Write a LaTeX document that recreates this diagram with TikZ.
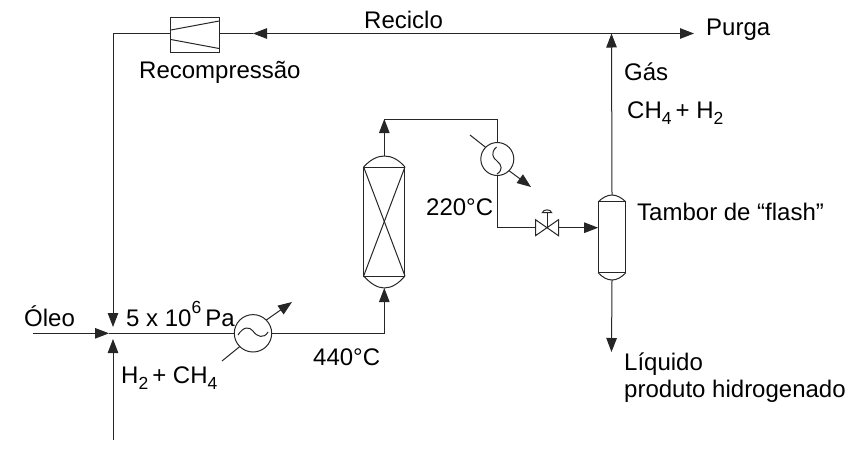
\documentclass[tikz,border=0pt]{standalone}
\usepackage{fontspec}
\setmainfont{Liberation Sans}
\usetikzlibrary{arrows.meta}
\newcommand{\subx}[1]{\raisebox{-6pt}{\fontsize{17.5}{17.5}\selectfont #1}}
\newcommand{\supx}[1]{\raisebox{13pt}{\fontsize{17.5}{17.5}\selectfont #1}}
\tikzset{
  line/.style={draw=black!85,line width=1pt},
  flow/.style={line,-{Triangle[length=14pt,width=10.5pt]}},
  eq/.style={draw=black!85,line width=1pt,inner sep=0pt,outer sep=0pt,minimum width=0pt,minimum height=0pt},
  lbl/.style={anchor=base west,inner sep=0pt,font=\fontsize{24}{26}\selectfont,text=black},
}
\begin{document}
\begin{tikzpicture}[x=1pt,y=-1pt]
\useasboundingbox (0,0) rectangle (848,472);
% equipment
\node[eq,rectangle,minimum width=48.3pt,minimum height=34.5pt] (comp) at (195,34.8) {};
\node[eq,circle,minimum size=37.4pt] (heater) at (253,333.3) {};
\node[eq,circle,minimum size=33pt] (cooler) at (497.3,159) {};
\node[eq,rectangle,minimum width=41.3pt,minimum height=109pt] (reactor) at (384.3,221.5) {};
\node[eq,rectangle,minimum width=27.7pt,minimum height=70.7pt] (drum) at (612,237.3) {};
\coordinate (valve) at (547,227.7);
% compressor internals
\draw[line] (comp.west |- 0,30) -- (comp.east |- 0,21);
\draw[line] (comp.west |- 0,39.5) -- (comp.east |- 0,48.5);
% reactor internals and heads
\draw[line] (reactor.north west) -- (reactor.south east);
\draw[line] (reactor.north east) -- (reactor.south west);
\draw[line] (reactor.north west) .. controls (370,160) and (377,156) .. (384.3,156) coordinate (rtop) .. controls (392,156) and (399,160) .. (reactor.north east);
\draw[line] (reactor.south west) .. controls (370,283) and (377,288) .. (384.3,288) coordinate (rbot) .. controls (392,288) and (399,283) .. (reactor.south east);
% drum heads
\draw[line] (drum.north west) .. controls (602,198) and (607,195) .. (612,195) coordinate (dtop) .. controls (617,195) and (622,198) .. (drum.north east);
\draw[line] (drum.south west) .. controls (602,277) and (607,280) .. (612,280) coordinate (dbot) .. controls (617,280) and (622,277) .. (drum.south east);
% heater and cooler internals
\draw[line] (238,335) .. controls (243,327) and (249,326) .. (253,331) .. controls (257,337) and (264,339) .. (268,332);
\draw[line] (496.5,147) .. controls (490,153) and (493,158) .. (497,161) .. controls (502,165) and (503,170) .. (497,174);
% valve
\draw[line] (valve) -- ++(-11.5,-8) -- ++(0,16) -- cycle;
\draw[line] (valve) -- ++(11.5,-8) -- ++(0,16) -- cycle;
\draw[line] (valve) -- ++(0,-15) coordinate (stem);
\draw[line] (542.5,212.5) .. controls (543,209) and (551,209) .. (551.5,212.5) -- cycle;
% free ends and corners
\coordinate (oil) at (33,333.3);
\coordinate (h2) at (113,440);
\coordinate (purge) at (694,33.5);
\coordinate (tee) at (611.5,33.5);
\coordinate (liq) at (611.5,352);
\coordinate (ct1) at (470,135);
\coordinate (ct2) at (531,187);
\coordinate (ht1) at (222,361);
\coordinate (ht2) at (292,302);
% pipes
\draw[flow] (tee) -- (253,33.5);
\draw[line] (253,33.5) -- (comp.east |- 0,33.5);
\draw[flow] (tee) -- (purge);
\draw[flow] (dtop) -- (tee);
\draw[flow] (comp.west |- 0,33.5) -| (113,327);
\draw[flow] (oil) -- (109,333.3);
\draw[flow] (h2) -- (113,339);
\draw[line] (109,333.3) -- (heater.west);
\draw[flow] (heater.east) -| (rbot);
\draw[flow] (rtop) -- (384.3,119);
\draw[line] (384.3,119) -| (cooler.north);
\draw[line] (cooler.south) |- (535.5,227.7);
\draw[flow] (558.5,227.7) -- (drum.west |- valve);
\draw[flow] (dbot) -- (liq);
\draw[line] (ct1) -- (cooler.135);
\draw[flow] (cooler.-45) -- (ct2);
\draw[line] (ht1) -- (heater.225);
\draw[flow] (heater.45) -- (ht2);
% labels
\node[lbl] (t1) at (364,28.5) {Reciclo};
\node[lbl] (t2) at (706,35.5) {Purga};
\node[lbl] (t3) at (139,78) {Recompressão};
\node[lbl] (t4) at (624,80) {Gás};
\node[lbl] (t5) at (627,118) {CH\subx{4}\,+ H\subx{2}};
\node[lbl] (t6) at (637,220) {Tambor de “flash”};
\node[lbl] (t7) at (426,215) {220°C};
\node[lbl] (t8) at (313,365) {440°C};
\node[lbl] (t9) at (126,326) {5 x 10\supx{6}\,Pa};
\node[lbl] (t10) at (24,326) {Óleo};
\node[lbl] (t11) at (121,383) {H\subx{2}\,+ CH\subx{4}};
\node[lbl] (t12) at (624,370) {Líquido};
\node[lbl] (t13) at (624,397) {produto hidrogenado};
\end{tikzpicture}
\end{document}
